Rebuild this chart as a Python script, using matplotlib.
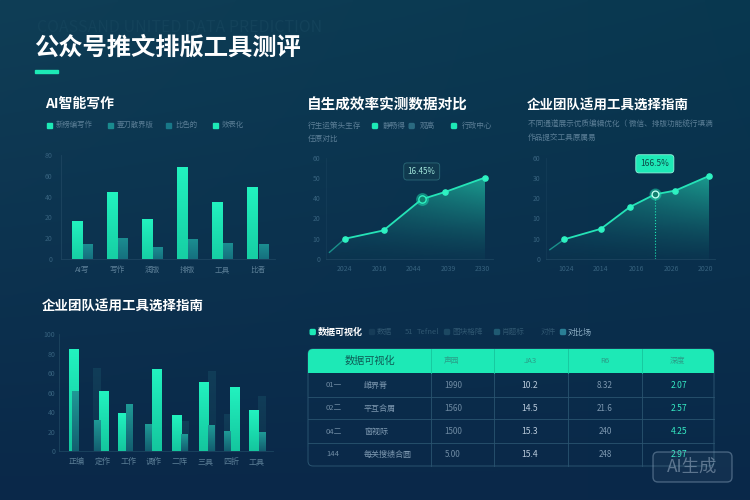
import numpy as np
import matplotlib.pyplot as plt
from matplotlib.patches import FancyBboxPatch, Rectangle, Polygon
from matplotlib.colors import LinearSegmentedColormap, to_rgb

plt.rcParams['font.family'] = ['Noto Sans CJK SC', 'DejaVu Sans']

# --- データ ---
page_title = '公众号推文排版工具测评'
bg_caption = 'COASSAND UNITED DATA PREDICTION'

p1_title = 'AI智能写作'
p1_legend = ['新榜编写作', '壹刀散界版', '比色的', '效表化']
p1_cats = ['AI写', '写作', '润版', '排版', '工具', '比者']
p1_main = [36, 64, 38, 88, 54, 69]
p1_sub = [14, 19.5, 11, 18.5, 14.5, 13.5]
p1_yticks = ['0', '20', '20', '40', '60', '80']

p2_title = '自生成效率实测数据对比'
p2_lead = ['行生运策头生存', '任原对比']
p2_legend = ['静畅得', '观高', '行政中心']
p2_x = [-0.45, 0, 1.12, 2.23, 2.91, 4.07]
p2_y = [3.3, 10.0, 14.1, 29.5, 33.1, 40.2]
p2_peak = 3
p2_peak_label = '16.45%'
p2_xticks = ['2024', '2016', '2044', '2039', '2330']
p2_yticks = ['0', '10', '20', '40', '50', '60']

p3_title = '企业团队适用工具选择指南'
p3_note = ['不同通道展示优质编辑优化（ 微信、排版功能统行填满', '作品提交工具原属易']
p3_x = [-0.46, -0.05, 1.0, 1.83, 2.54, 3.13, 4.09]
p3_y = [4.6, 9.7, 14.9, 25.7, 31.9, 33.8, 41.0]
p3_peak = 4
p3_peak_label = '166.5%'
p3_xticks = ['1024', '2014', '2016', '2026', '2020']
p3_yticks = ['0', '10', '10', '20', '30', '60']

p4_title = '企业团队适用工具选择指南'
p4_cats = ['正编', '定作', '工作', '调作', '二阵', '三具', '四折', '工具']
p4_main = [104.6, 60.9, 38.6, 84.1, 35.9, 70.1, 65.3, 41.4]
p4_sub = [60.9, 31.1, 47.5, 27.0, 17.1, 26.3, 19.8, 18.5]
p4_ghost = [0, 84.4, 0, 0, 30.4, 81.7, 37.3, 56.1]
p4_yticks = ['0', '20', '40', '60', '60', '80', '100']

tbl_legend = ['数据可视化', '数据', '51', 'Tefnel', '图块格降', '肖题标', '对件', '对比场']
tbl_header = ['数据可视化', '声园', 'JA3', 'R6', '深度']
tbl_code = ['01一', '02二', '04二', '144']
tbl_name = ['雌界脊', '平互合屑', '窗视际', '每关搜绩合圆']
tbl_col1 = ['1990', '1560', '1500', '5.00']
tbl_col2 = ['10.2', '14.5', '15.3', '15.4']
tbl_col3 = ['8.32', '21.6', '240', '248']
tbl_col4 = ['2.07', '2.57', '4.25', '2.97']

# --- 色 ---
MINT = '#1de9b6'
TEAL = '#1a8a8e'
TICK = '#37627e'
LABEL = '#5b7e96'
SPINE = '#1d4560'

W, H = 750, 500
fig = plt.figure(figsize=(W / 100, H / 100), dpi=100)


def px_axes(l, t, r, b):
    ax = fig.add_axes([l / W, 1 - b / H, (r - l) / W, (b - t) / H])
    ax.patch.set_alpha(0)
    for s in ['top', 'right']:
        ax.spines[s].set_visible(False)
    for s in ['left', 'bottom']:
        ax.spines[s].set_color(SPINE)
        ax.spines[s].set_linewidth(0.6)
    ax.tick_params(length=0, labelsize=5, colors=TICK)
    return ax


def grad_bars(ax, bars, c_top, c_bot, z=2):
    cmap = LinearSegmentedColormap.from_list('g', [c_bot, c_top])
    grad = np.linspace(0, 1, 64).reshape(-1, 1)
    for b in bars:
        if b.get_height() <= 0:
            continue
        x0, w, h = b.get_x(), b.get_width(), b.get_height()
        ax.imshow(grad, extent=(x0, x0 + w, 0, h), origin='lower', cmap=cmap,
                  aspect='auto', zorder=z, interpolation='bilinear')
        b.set_visible(False)


def grad_area(ax, x, y, color):
    verts = [(x[0], 0)] + list(zip(x, y)) + [(x[-1], 0)]
    poly = Polygon(verts, closed=True, fc='none', ec='none')
    ax.add_patch(poly)
    ny, nx = 80, 120
    gy = np.linspace(0, 1, ny)[:, None]
    gx = np.linspace(0, 1, nx)[None, :]
    rgba = np.zeros((ny, nx, 4))
    rgba[..., :3] = to_rgb(color)
    rgba[..., 3] = (0.05 + 0.75 * gy ** 1.3) * (0.45 + 0.55 * gx)
    im = ax.imshow(rgba, extent=(x[0], x[-1], 0, max(y)), origin='lower',
                   aspect='auto', zorder=1, interpolation='bilinear')
    im.set_clip_path(poly)


# 背景
bg = fig.add_axes([0, 0, 1, 1])
bg.set_xlim(0, W)
bg.set_ylim(H, 0)
bg.axis('off')
yy, xx = np.mgrid[0:1:200j, 0:1:300j]
top = np.array(to_rgb('#0f3e56'))
bot = np.array(to_rgb('#0a2849'))
img = top * (1 - yy)[..., None] + bot * yy[..., None] - 0.025 * xx[..., None] * (1 - yy)[..., None]
bg.imshow(np.clip(img, 0, 1), extent=(0, W, H, 0), aspect='auto', zorder=0)

bg.text(37, 28, bg_caption, fontsize=11.5, color='#13425a', va='center', ha='left', zorder=1)
bg.text(34, 48, page_title, fontsize=17.5, fontweight='bold', color='white', va='center', zorder=2)
bg.add_patch(Rectangle((35, 69.5), 23, 3.5, color=MINT, zorder=2))

# ---------- 面板1 ----------
bg.text(45, 104, p1_title, fontsize=10, fontweight='bold', color='white', va='center')
leg_x = [49, 110, 168, 215]
leg_c = [MINT, TEAL, '#187888', MINT]
for lx, lc, lt in zip(leg_x, leg_c, p1_legend):
    bg.add_patch(Rectangle((lx - 2.5, 122.5), 5, 5, color=lc))
    bg.text(lx + 7, 125, lt, fontsize=5.3, color=LABEL, va='center')

ax1 = px_axes(61, 155, 275, 259)
xi = np.arange(len(p1_cats))
b1 = ax1.bar(xi - 0.13, p1_main, width=0.31)
b2 = ax1.bar(xi + 0.17, p1_sub, width=0.28)
grad_bars(ax1, b1, '#22f2bf', '#16cfa4')
grad_bars(ax1, b2, '#1c8d91', '#15707e')
ax1.set_xlim(-0.6, 5.5)
ax1.set_ylim(0, 100)
ax1.set_yticks(np.linspace(0, 100, 6))
ax1.set_yticklabels(p1_yticks)
ax1.set_xticks(xi)
ax1.set_xticklabels(p1_cats, color=LABEL, fontsize=5.5)
ax1.tick_params(axis='y', pad=6)
ax1.tick_params(axis='x', pad=5)

# ---------- 面板2 ----------
bg.text(307, 105, p2_title, fontsize=10.5, fontweight='bold', color='white', va='center')
bg.text(308, 126, p2_lead[0], fontsize=5.5, color=LABEL, va='center')
bg.text(308, 139, p2_lead[1], fontsize=5.5, color=LABEL, va='center')
for lx, lc, lt in zip([375, 411.7, 454], [MINT, '#2a6a80', MINT], p2_legend):
    bg.add_patch(FancyBboxPatch((lx - 2.5, 123.5), 5, 5, boxstyle='round,pad=0,rounding_size=1', color=lc))
    bg.text(lx + 8, 126, lt, fontsize=5.5, color=LABEL, va='center')

ax2 = px_axes(326, 157.7, 493, 259)
grad_area(ax2, p2_x, p2_y, '#1fb7a0')
ax2.plot(p2_x[:2], p2_y[:2], color='#1a8f8a', lw=1.0, zorder=3)
ax2.plot(p2_x[1:], p2_y[1:], color='#25e3b7', lw=1.3, zorder=3)
ax2.scatter(p2_x[1:], p2_y[1:], s=14, color='#2ef2c2', zorder=4)
ax2.scatter([p2_x[p2_peak]], [p2_y[p2_peak]], s=70, color=MINT, alpha=0.35, zorder=4)
ax2.scatter([p2_x[p2_peak]], [p2_y[p2_peak]], s=28, color='#12806f', edgecolor='#2ef2c2', lw=1, zorder=5)
ax2.annotate(p2_peak_label, (p2_x[p2_peak], p2_y[p2_peak]), xytext=(0, 20), textcoords='offset points',
             ha='center', va='center', fontsize=5.8, color='#9fe3d8', zorder=6,
             bbox=dict(boxstyle='round,pad=0.5,rounding_size=0.4', fc='#103a4f', ec='#2b6a78', lw=0.6))
ax2.set_xlim(-0.55, 4.3)
ax2.set_ylim(0, 50)
ax2.set_yticks(np.linspace(0, 50, 6))
ax2.set_yticklabels(p2_yticks)
ax2.set_xticks(range(len(p2_xticks)))
ax2.set_xticklabels(p2_xticks)
ax2.tick_params(axis='y', pad=4)
ax2.tick_params(axis='x', pad=4.5)
ax2.spines['left'].set_alpha(0.5)

# ---------- 面板3 ----------
bg.text(527, 106, p3_title, fontsize=9.7, fontweight='bold', color='white', va='center')
bg.text(528, 125, p3_note[0], fontsize=5.5, color=LABEL, va='center')
bg.text(528, 138, p3_note[1], fontsize=5.5, color=LABEL, va='center')

ax3 = px_axes(546, 157.7, 715, 259)
grad_area(ax3, p3_x, p3_y, '#1fb7a0')
ax3.plot(p3_x[:2], p3_y[:2], color='#1a8f8a', lw=1.0, zorder=3)
ax3.plot(p3_x[1:], p3_y[1:], color='#25e3b7', lw=1.3, zorder=3)
ax3.scatter(p3_x[1:], p3_y[1:], s=14, color='#2ef2c2', zorder=4)
ax3.plot([p3_x[p3_peak]] * 2, [0, p3_y[p3_peak]], color=MINT, ls=':', lw=0.8, zorder=3)
ax3.scatter([p3_x[p3_peak]], [p3_y[p3_peak]], s=60, color=MINT, alpha=0.35, zorder=4)
ax3.scatter([p3_x[p3_peak]], [p3_y[p3_peak]], s=24, color='#12806f', edgecolor='#b8fff0', lw=1, zorder=5)
ax3.annotate(p3_peak_label, (p3_x[p3_peak], p3_y[p3_peak]), xytext=(0, 22), textcoords='offset points',
             ha='center', va='center', fontsize=6, color='#0c4a48', zorder=6,
             bbox=dict(boxstyle='round,pad=0.55,rounding_size=0.4', fc=MINT, ec='#8ff5dc', lw=0.6))
ax3.set_xlim(-0.57, 4.26)
ax3.set_ylim(0, 50)
ax3.set_yticks(np.linspace(0, 50, 6))
ax3.set_yticklabels(p3_yticks)
ax3.set_xticks(range(len(p3_xticks)))
ax3.set_xticklabels(p3_xticks)
ax3.tick_params(axis='y', pad=4)
ax3.tick_params(axis='x', pad=4.5)
ax3.spines['left'].set_alpha(0.5)

# ---------- 面板4 ----------
bg.text(42, 307, p4_title, fontsize=9.7, fontweight='bold', color='white', va='center')
ax4 = px_axes(59.3, 334.3, 273, 451.3)
xi4 = np.arange(len(p4_cats))
main_off = np.array([-0.1, 0.05, -0.2, 0.1, -0.1, -0.05, 0.15, -0.1])
sub_off = np.array([-0.04, -0.22, 0.05, -0.2, 0.2, 0.25, -0.15, 0.2])
bg4 = ax4.bar(xi4 + sub_off, p4_ghost, width=0.28)
grad_bars(ax4, bg4, '#113d58', '#0d324e', z=1)
bm = ax4.bar(xi4 + main_off, p4_main, width=0.37)
grad_bars(ax4, bm, '#22f2bf', '#14c69e', z=2)
bs = ax4.bar(xi4 + sub_off, p4_sub, width=0.26)
grad_bars(ax4, bs, '#1f9a96', '#135e70', z=3)
ax4.set_xlim(-0.68, 7.63)
ax4.set_ylim(0, 120)
ax4.set_yticks(np.linspace(0, 120, 7))
ax4.set_yticklabels(p4_yticks)
ax4.set_xticks(xi4)
ax4.set_xticklabels(p4_cats, color=LABEL, fontsize=5.8)
ax4.tick_params(axis='y', pad=3)
ax4.tick_params(axis='x', pad=4)

# ---------- 表 ----------
tl_x = [312.7, 372, 405, 417, 447, 497, 541, 563]
tl_sq = [MINT, '#163c58', None, None, '#1c4862', '#1f5a72', None, '#2a7f95']
for i, (lx, sq, lt) in enumerate(zip(tl_x, tl_sq, tbl_legend)):
    tx = lx
    if sq is not None:
        bg.add_patch(FancyBboxPatch((lx - 2.5, 329.5), 5, 5, boxstyle='round,pad=0,rounding_size=1', color=sq))
        tx = lx + 5
    if i == 0:
        bg.text(tx, 332, lt, fontsize=6.5, fontweight='bold', color='white', va='center')
    elif i == len(tbl_legend) - 1:
        bg.text(tx, 332, lt, fontsize=5.8, color='#8fb0c6', va='center')
    else:
        bg.text(tx, 332, lt, fontsize=5.5, color='#2f5670', va='center')

t_l, t_r, t_t, t_b = 308, 714, 349, 466
bg.add_patch(FancyBboxPatch((t_l, t_t), t_r - t_l, t_b - t_t, boxstyle='round,pad=0,rounding_size=5',
                            fc='none', ec='#2a5470', lw=0.7, zorder=2))
bg.add_patch(FancyBboxPatch((t_l, t_t), t_r - t_l, 24, boxstyle='round,pad=0,rounding_size=5',
                            fc=MINT, ec='none', zorder=3))
bg.add_patch(Rectangle((t_l, t_t + 12), t_r - t_l, 12, fc=MINT, ec='none', zorder=3))
col_div = [430.7, 494.3, 567.7, 641.7]
for cx in col_div:
    bg.plot([cx, cx], [t_t, t_t + 24], color='#16c49c', lw=0.6, zorder=4)
    bg.plot([cx, cx], [t_t + 24, t_b], color='#2a5470', lw=0.6, zorder=2)
row_y = [385, 408.3, 431.7, 454.3]
for ry in [396.7, 419.3, 442.7]:
    bg.plot([t_l, t_r], [ry, ry], color='#2a5470', lw=0.6, zorder=2)

head_x = [370, 452, 530, 605, 677]
for i, (hx, ht) in enumerate(zip(head_x, tbl_header)):
    if i == 0:
        bg.text(hx, 361, ht, fontsize=7.3, color='#0e5a55', ha='center', va='center', zorder=5)
    else:
        bg.text(hx, 361, ht, fontsize=5.6, color='#2a9e88', ha='center', va='center', zorder=5)

for r in range(len(tbl_code)):
    y = row_y[r]
    bg.text(326, y, tbl_code[r], fontsize=5.5, color='#6f8ba3', va='center', zorder=5)
    bg.text(364, y, tbl_name[r], fontsize=5.8, color='#7d98b0', va='center', zorder=5)
    bg.text(453, y, tbl_col1[r], fontsize=5.8, color='#6f8ba3', ha='center', va='center', zorder=5)
    bg.text(530, y, tbl_col2[r], fontsize=6.2, color='#b9cadb', ha='center', va='center', zorder=5)
    bg.text(605, y, tbl_col3[r], fontsize=5.8, color='#7d98b0', ha='center', va='center', zorder=5)
    bg.text(679, y, tbl_col4[r], fontsize=6.2, color='#35e8c3', ha='center', va='center', zorder=5)

# 透かし
bg.add_patch(FancyBboxPatch((653, 452), 79, 30, boxstyle='round,pad=0,rounding_size=5',
                            fc=(1, 1, 1, 0.04), ec=(0.55, 0.65, 0.75, 0.45), lw=1, zorder=6))
bg.text(692.5, 467, 'AI生成', fontsize=12.5, color=(0.6, 0.68, 0.76, 0.55), ha='center', va='center', zorder=7)

fig.savefig('out.png', dpi=100)
